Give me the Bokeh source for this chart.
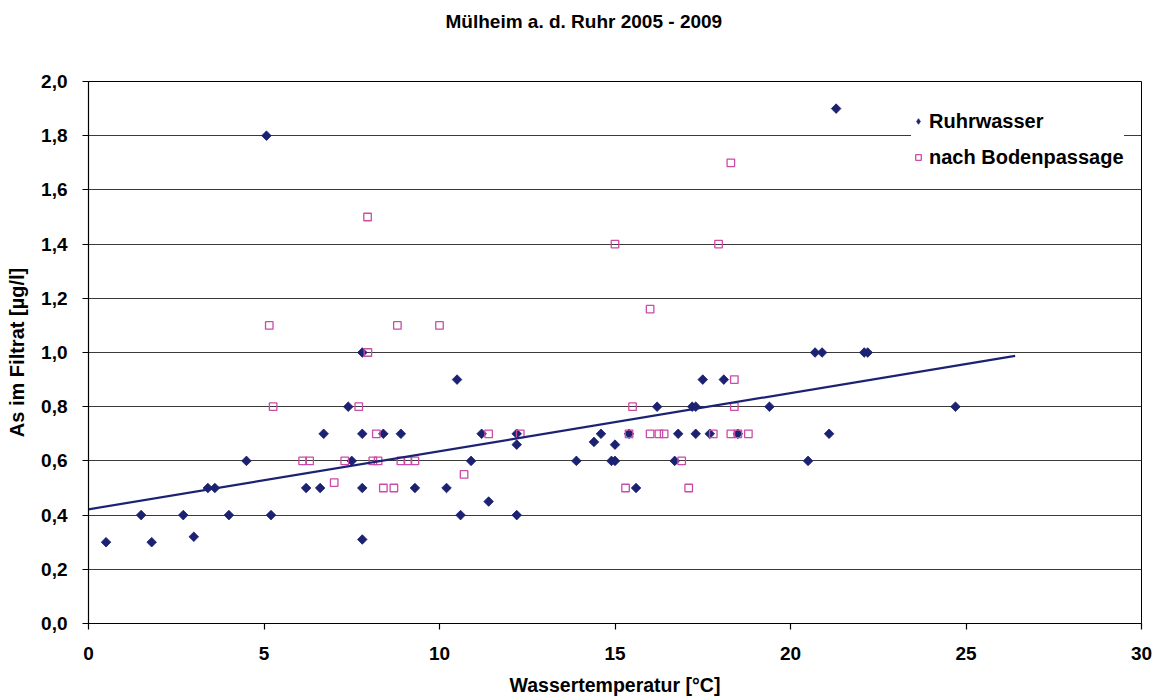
import numpy as np
from bokeh.plotting import figure
from bokeh.models import (ColumnDataSource, FixedTicker, Legend, LegendItem, Title)
from bokeh.embed import file_html
from bokeh.resources import INLINE

# ---- data ----
ruhr_x = [0.5, 1.5, 1.8, 2.7, 3.0, 3.4, 3.6, 4.0, 4.5, 5.07, 5.2, 6.2, 6.6, 6.7,
          7.4, 7.5, 7.8, 7.8, 7.8, 7.8, 8.4, 8.9, 9.3, 10.2, 10.5, 10.6, 10.9,
          11.2, 11.4, 12.2, 12.2, 12.2, 13.9, 14.4, 14.6, 14.9, 15.0, 15.0, 15.4,
          15.6, 16.2, 16.7, 16.8, 17.2, 17.3, 17.3, 17.5, 17.7, 18.1, 18.5, 19.4,
          20.5, 20.7, 20.9, 21.1, 21.3, 22.1, 22.2, 24.7]
ruhr_y = [0.3, 0.4, 0.3, 0.4, 0.32, 0.5, 0.5, 0.4, 0.6, 1.8, 0.4, 0.5, 0.5, 0.7,
          0.8, 0.6, 1.0, 0.7, 0.5, 0.31, 0.7, 0.7, 0.5, 0.5, 0.9, 0.4, 0.6,
          0.7, 0.45, 0.7, 0.66, 0.4, 0.6, 0.67, 0.7, 0.6, 0.6, 0.66, 0.7,
          0.5, 0.8, 0.6, 0.7, 0.8, 0.8, 0.7, 0.9, 0.7, 0.9, 0.7, 0.8,
          0.6, 1.0, 1.0, 0.7, 1.9, 1.0, 1.0, 0.8]

boden_x = [5.15, 5.26, 6.1, 6.3, 7.0, 7.3, 7.7, 7.95, 7.96, 8.1, 8.2, 8.25, 8.4,
           8.7, 8.8, 8.9, 9.1, 9.3, 10.0, 10.7, 11.4, 12.3, 15.0, 15.3, 15.4,
           15.5, 16.0, 16.0, 16.25, 16.4, 16.9, 17.1, 17.8, 17.95, 18.3, 18.3,
           18.4, 18.4, 18.5, 18.8]
boden_y = [1.1, 0.8, 0.6, 0.6, 0.52, 0.6, 0.8, 1.5, 1.0, 0.6, 0.7, 0.6, 0.5,
           0.5, 1.1, 0.6, 0.6, 0.6, 1.1, 0.55, 0.7, 0.7, 1.4, 0.5, 0.7,
           0.8, 1.16, 0.7, 0.7, 0.7, 0.6, 0.5, 0.7, 1.4, 1.7, 0.7,
           0.9, 0.8, 0.7, 0.7]

trend_range = [0.0, 26.4]

x_ticks = [0, 5, 10, 15, 20, 25, 30]
y_ticks = [0.0, 0.2, 0.4, 0.6, 0.8, 1.0, 1.2, 1.4, 1.6, 1.8, 2.0]
y_tick_labels = ["0,0", "0,2", "0,4", "0,6", "0,8", "1,0", "1,2", "1,4", "1,6", "1,8", "2,0"]

title_text = "Mülheim a. d. Ruhr 2005 - 2009"
x_title = "Wassertemperatur [°C]"
y_title = "As im Filtrat [µg/l]"
series_names = ["Ruhrwasser", "nach Bodenpassage"]

# ---- linear trendline of the Ruhrwasser series ----
slope, intercept = np.polyfit(np.array(ruhr_x), np.array(ruhr_y), 1)
trend_x = list(trend_range)
trend_y = [intercept + slope * v for v in trend_range]

FONT = "Liberation Sans"
NAVY = "#1c2272"
PINK = "#cc4aa8"

p = figure(width=1158, height=700, x_range=(0, 30), y_range=(0, 2.0),
           output_backend="svg", toolbar_location=None,
           min_border_left=88, min_border_right=17, min_border_top=81,
           min_border_bottom=77)
p.background_fill_color = "white"
p.border_fill_color = "white"
p.outline_line_color = "black"
p.outline_line_width = 1

# main title (outermost) + an empty spacer title between it and the frame
p.title.text = title_text
p.title.text_font = FONT
p.title.text_font_size = "19px"
p.title.text_font_style = "bold"
p.title.text_color = "black"
p.title.align = "left"
p.title.offset = 357
p.title.standoff = 14
p.add_layout(Title(text=" ", text_font=FONT, text_font_size="19px",
                   standoff=20), "above")

# grid
p.xgrid.grid_line_color = None
p.ygrid.ticker = FixedTicker(ticks=y_ticks)
p.ygrid.grid_line_color = "#3a3a3a"
p.ygrid.grid_line_width = 1.2

# axes
for ax in (p.xaxis[0], p.yaxis[0]):
    ax.axis_line_color = "black"
    ax.axis_line_width = 1.2
    ax.major_tick_line_color = "black"
    ax.major_tick_line_width = 1.2
    ax.major_tick_in = 0
    ax.major_tick_out = 6
    ax.minor_tick_line_color = None
    ax.major_label_text_font = FONT
    ax.major_label_text_font_size = "19px"
    ax.major_label_text_font_style = "bold"
    ax.major_label_text_color = "black"
    ax.axis_label_text_font = FONT
    ax.axis_label_text_font_style = "bold"
    ax.axis_label_text_color = "black"

p.xaxis.ticker = FixedTicker(ticks=x_ticks)
p.xaxis.axis_label = x_title
p.xaxis.axis_label_text_font_size = "19.5px"
p.xaxis.major_label_standoff = 17
p.xaxis.axis_label_standoff = 11

p.yaxis.ticker = FixedTicker(ticks=y_ticks)
p.yaxis.major_label_overrides = {t: lab for t, lab in zip(y_ticks, y_tick_labels)}
p.yaxis.axis_label = y_title
p.yaxis.axis_label_text_font_size = "20px"
p.yaxis.major_label_standoff = 15
p.yaxis.axis_label_standoff = 10

src_r = ColumnDataSource(dict(x=ruhr_x, y=ruhr_y))
src_b = ColumnDataSource(dict(x=boden_x, y=boden_y))

# diamond glyph used for the legend symbol; it sits fully underneath the
# rotated squares below, so in the plot only the Excel-like diamonds are seen
r1_leg = p.scatter("x", "y", source=src_r, marker="diamond", size=8,
                   fill_color=NAVY, line_color=NAVY, line_width=0.8)
p.scatter("x", "y", source=src_r, marker="square", size=6.8, angle=np.pi / 4,
          fill_color=NAVY, line_color=NAVY, line_width=0.8)
r2 = p.scatter("x", "y", source=src_b, marker="square", size=7.5,
               fill_alpha=0, line_color=PINK, line_width=1.3)
p.line(trend_x, trend_y, line_color=NAVY, line_width=2.2)

legend = Legend(items=[LegendItem(label=series_names[0], renderers=[r1_leg]),
                       LegendItem(label=series_names[1], renderers=[r2])],
                location=(823, 454), orientation="vertical",
                border_line_color=None, background_fill_color="white",
                background_fill_alpha=1.0, padding=10, spacing=12,
                glyph_width=14, glyph_height=24, label_height=24,
                label_standoff=4, margin=0,
                label_text_font=FONT, label_text_font_size="20px",
                label_text_font_style="bold",
                label_text_color="black")
p.add_layout(legend, "center")

open("out.html", "w").write(file_html(p, INLINE))
